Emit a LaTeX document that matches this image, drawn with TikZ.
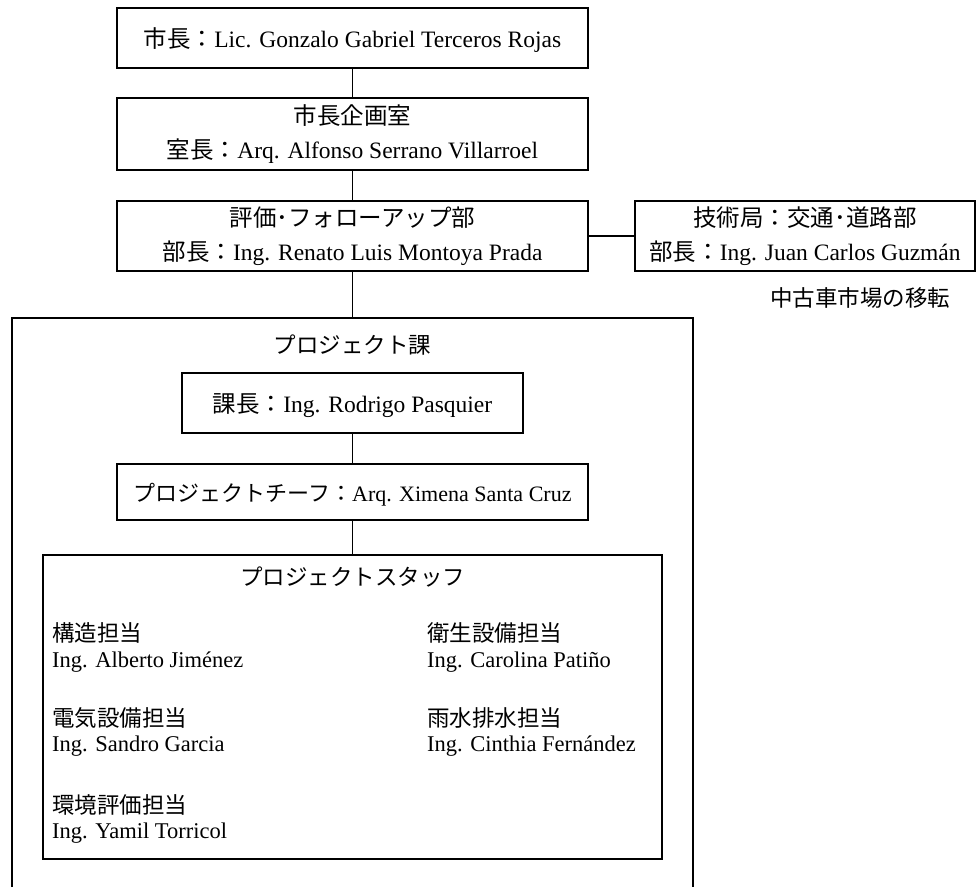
\documentclass[tikz,border=0pt]{standalone}
\usepackage{fontspec}
\setmainfont{Liberation Serif}
\newfontfamily\jp{Noto Sans CJK JP}
\begin{document}
\begin{tikzpicture}[x=1pt,y=-1pt,
  box/.style={draw,line width=1.6pt,inner sep=0pt,align=center,font=\fontsize{23.5}{34}\selectfont},
  txt/.style={inner sep=0pt,font=\fontsize{22.5}{27}\selectfont},
  conn/.style={line width=1.6pt}]
\useasboundingbox (0,0) rectangle (976,887);
\node[box,minimum width=471,minimum height=60,text depth=0pt] (b1) at (352.5,38) {{\jp 市長：}Lic. Gonzalo Gabriel Terceros Rojas};
\node[box,minimum width=471,minimum height=72] (b2) at (352.5,134) {{\jp 市長企画室}\\{\jp 室長：}Arq. Alfonso Serrano Villarroel};
\node[box,minimum width=471,minimum height=70] (b3) at (352.5,236) {{\jp 評価･フォローアップ部}\\{\jp 部長：}Ing. Renato Luis Montoya Prada};
\node[box,minimum width=340,minimum height=70] (b4) at (805,236) {{\jp 技術局：交通･道路部}\\{\jp 部長：}Ing. Juan Carlos Guzmán};
\node[txt] (move) at (860,298) {\jp 中古車市場の移転};
\coordinate (otl) at (12,318);
\coordinate (otr) at (693,318);
\coordinate (otop) at (352.5,318);
\draw[conn] (12,887) -- (otl) -- (otr) -- (693,887);
\node[txt] (ptitle) at (352.5,345) {\jp プロジェクト課};
\node[box,minimum width=341,minimum height=60,text depth=0pt] (kacho) at (352.5,403) {{\jp 課長：}Ing. Rodrigo Pasquier};
\node[box,minimum width=471,minimum height=56,text depth=0pt,font=\fontsize{22}{27}\selectfont] (chief) at (352.5,492) {{\jp プロジェクトチーフ：}Arq. Ximena Santa Cruz};
\node[box,minimum width=619,minimum height=304] (staff) at (352.5,707) {};
\node[txt] (stitle) at (352.5,577) {\jp プロジェクトスタッフ};
\node[txt,anchor=west] (s1a) at (52,633) {\jp 構造担当};
\node[txt,anchor=west] (s1b) at (52,662) {Ing. Alberto Jiménez};
\node[txt,anchor=west] (s2a) at (52,718) {\jp 電気設備担当};
\node[txt,anchor=west] (s2b) at (52,746) {Ing. Sandro Garcia};
\node[txt,anchor=west] (s3a) at (52,805) {\jp 環境評価担当};
\node[txt,anchor=west] (s3b) at (52,833) {Ing. Yamil Torricol};
\node[txt,anchor=west] (s4a) at (427,633) {\jp 衛生設備担当};
\node[txt,anchor=west] (s4b) at (427,662) {Ing. Carolina Patiño};
\node[txt,anchor=west] (s5a) at (427,718) {\jp 雨水排水担当};
\node[txt,anchor=west] (s5b) at (427,746) {Ing. Cinthia Fernández};
\draw[conn] (b1.south) -- (b2.north);
\draw[conn] (b2.south) -- (b3.north);
\draw[conn] (b3.east) -- (b4.west);
\draw[conn] (b3.south) -- (otop);
\draw[conn] (kacho.south) -- (chief.north);
\draw[conn] (chief.south) -- (staff.north);
\end{tikzpicture}
\end{document}
